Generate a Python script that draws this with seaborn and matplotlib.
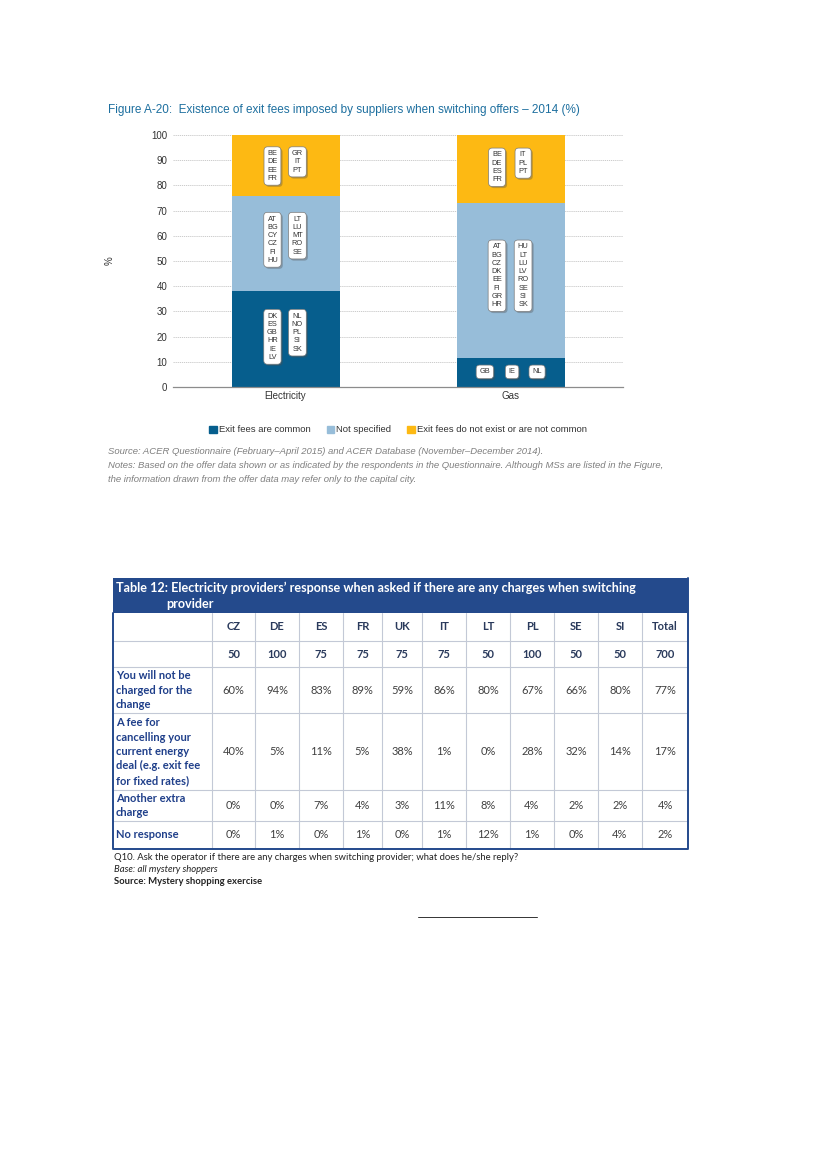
import numpy as np
import pandas as pd
import matplotlib
matplotlib.use("Agg")
import matplotlib.pyplot as plt
import matplotlib.patheffects as pe
from matplotlib.patches import Patch, Rectangle
import seaborn as sns

# --- dane wykresu (Figure A-20) ---
categories = ["Electricity", "Gas"]
fees_common = [37.9, 11.5]
not_specified = [37.9, 61.5]
no_fees = [24.1, 26.9]

elec_common = [["DK", "ES", "GB", "HR", "IE", "LV"], ["NL", "NO", "PL", "SI", "SK"]]
elec_notspec = [["AT", "BG", "CY", "CZ", "FI", "HU"], ["LT", "LU", "MT", "RO", "SE"]]
elec_nofee = [["BE", "DE", "EE", "FR"], ["GR", "IT", "PT"]]
gas_common = [["GB"], ["IE"], ["NL"]]
gas_notspec = [["AT", "BG", "CZ", "DK", "EE", "FI", "GR", "HR"],
               ["HU", "LT", "LU", "LV", "RO", "SE", "SI", "SK"]]
gas_nofee = [["BE", "DE", "ES", "FR"], ["IT", "PL", "PT"]]

legend_labels = ["Exit fees are common", "Not specified",
                 "Exit fees do not exist or are not common"]

# --- dane tabeli (Table 12) ---
countries = ["CZ", "DE", "ES", "FR", "UK", "IT", "LT", "PL", "SE", "SI", "Total"]
base_n = [50, 100, 75, 75, 75, 75, 50, 100, 50, 50, 700]
row_labels = [
    "You will not be\ncharged for the\nchange",
    "A fee for\ncancelling your\ncurrent energy\ndeal (e.g. exit fee\nfor fixed rates)",
    "Another extra\ncharge",
    "No response",
]
not_charged = [60, 94, 83, 89, 59, 86, 80, 67, 66, 80, 77]
cancel_fee = [40, 5, 11, 5, 38, 1, 0, 28, 32, 14, 17]
extra_charge = [0, 0, 7, 4, 3, 11, 8, 4, 2, 2, 4]
no_response = [0, 1, 0, 1, 0, 1, 12, 1, 0, 4, 2]

C_DARK = "#065e8d"
C_LIGHT = "#97bdd9"
C_YELLOW = "#fdb913"
C_TITLE = "#1d6f9f"
C_TAB = "#244a8c"

W, H = 827, 1169

sns.set_theme(style="white")
plt.rcParams["font.family"] = ["Liberation Sans", "DejaVu Sans"]

fig = plt.figure(figsize=(W / 100, H / 100), dpi=100)


def fig_box(x0, y0, x1, y1):
    # piksele (od góry) -> współrzędne figury
    return [x0 / W, 1 - y1 / H, (x1 - x0) / W, (y1 - y0) / H]


# ================= WYKRES =================
ax = fig.add_axes(fig_box(173, 135, 623, 387))
df = pd.DataFrame({"cat": categories, "common": fees_common,
                   "notspec": not_specified, "nofee": no_fees})
df["c1"] = df["common"]
df["c2"] = df["common"] + df["notspec"]
df["c3"] = df["c2"] + df["nofee"]

for col, color in [("c3", C_YELLOW), ("c2", C_LIGHT), ("c1", C_DARK)]:
    sns.barplot(data=df, x="cat", y=col, color=color, saturation=1,
                width=0.48, linewidth=0, edgecolor="none", ax=ax)

ax.set_xlim(-0.5, 1.5)
ax.set_ylim(0, 100)
ax.set_yticks(range(0, 101, 10))
ax.yaxis.grid(True, color="#c4c4c4", linestyle=(0, (1.5, 1)), linewidth=0.6)
ax.set_axisbelow(True)
for s in ["top", "right", "left"]:
    ax.spines[s].set_visible(False)
ax.spines["bottom"].set_color("#8c8c8c")
ax.spines["bottom"].set_linewidth(0.9)
ax.tick_params(axis="both", length=0, labelsize=7, colors="#333333")
ax.tick_params(axis="y", pad=4)
ax.tick_params(axis="x", pad=3)
ax.set_xlabel("")
ax.set_ylabel("%", fontsize=7, color="#333333")
ax.yaxis.set_label_coords((115 - 173) / 450, 0.5)


def country_box(x, y, codes, va="top"):
    t = ax.text(x, y, "\n".join(codes), ha="center", va=va, fontsize=5.3,
                color="#333333", linespacing=1.25, zorder=5,
                bbox=dict(boxstyle="round,pad=0.45,rounding_size=0.5",
                          fc="white", ec="#7a7a7a", lw=0.5))
    t.get_bbox_patch().set_path_effects(
        [pe.SimplePatchShadow(offset=(1.2, -1.2), alpha=0.35), pe.Normal()])


# Electricity
for dx, codes in zip([-0.058, 0.053], elec_nofee):
    country_box(0 + dx, 94.0, codes)
for dx, codes in zip([-0.058, 0.053], elec_notspec):
    country_box(0 + dx, 68.0, codes)
for dx, codes in zip([-0.058, 0.053], elec_common):
    country_box(0 + dx, 29.5, codes)
# Gas
for dx, codes in zip([-0.06, 0.056], gas_nofee):
    country_box(1 + dx, 93.5, codes)
for dx, codes in zip([-0.06, 0.056], gas_notspec):
    country_box(1 + dx, 57.0, codes)
for dx, codes in zip([-0.114, 0.007, 0.118], gas_common):
    country_box(1 + dx, 6.0, codes, va="center")

handles = [Patch(color=c, label=l) for c, l in zip([C_DARK, C_LIGHT, C_YELLOW], legend_labels)]
ax.legend(handles=handles, loc="center", bbox_to_anchor=((398 - 173) / 450, (387 - 430) / 252),
          ncol=3, frameon=False, fontsize=6.8, handlelength=0.8, handleheight=0.8,
          handletextpad=0.2, columnspacing=1.7, labelcolor="#333333")

fig.text(108 / W, 1 - 110 / H,
         "Figure A-20:  Existence of exit fees imposed by suppliers when switching offers \u2013 2014 (%)",
         fontsize=8.5, color=C_TITLE, va="center", ha="left")

src_kw = dict(fontsize=6.8, color="#7f7f7f", style="italic", va="center", ha="left")
fig.text(108 / W, 1 - 452 / H,
         "Source: ACER Questionnaire (February\u2013April 2015) and ACER Database (November\u2013December 2014).",
         **src_kw)
fig.text(108 / W, 1 - 466 / H,
         "Notes: Based on the offer data shown or as indicated by the respondents in the Questionnaire. "
         "Although MSs are listed in the Figure,", **src_kw)
fig.text(108 / W, 1 - 479 / H,
         "the information drawn from the offer data may refer only to the capital city.", **src_kw)

# ================= TABELA =================
tx = fig.add_axes([0, 0, 1, 1])
tx.set_xlim(0, W)
tx.set_ylim(H, 0)
tx.axis("off")
tx.patch.set_alpha(0)

tab_font = ["Lato", "DejaVu Sans"]
x_left, x_right = 113, 688
col_edges = [212, 255, 299, 343, 382, 422, 466, 510, 554, 598, 642, 688]
row_edges = [578, 613, 641, 667, 713, 790, 821, 849]
grid_c = "#c3c9d6"

tx.add_patch(Rectangle((x_left, row_edges[0]), x_right - x_left, row_edges[1] - row_edges[0],
                       fc=C_TAB, ec="none"))
tx.text(116, 588, "Table 12: Electricity providers\u2019 response when asked if there are any charges when switching",
        family=tab_font, fontsize=9.1, fontweight="bold", color="white", va="center", ha="left")
tx.text(166, 604, "provider", family=tab_font, fontsize=9.1, fontweight="bold",
        color="white", va="center", ha="left")

# linie siatki
for y in row_edges[2:-1]:
    tx.plot([x_left, x_right], [y, y], color=grid_c, lw=0.8)
for x in col_edges[:-1]:
    tx.plot([x, x], [row_edges[1], row_edges[-1]], color=grid_c, lw=0.8)
# obramowanie
tx.plot([x_left, x_left, x_right, x_right], [row_edges[1], row_edges[-1], row_edges[-1], row_edges[0]],
        color=C_TAB, lw=1.4)

centers = [(a + b) / 2 for a, b in zip(col_edges[:-1], col_edges[1:])]
for cx, c, n in zip(centers, countries, base_n):
    tx.text(cx, (row_edges[1] + row_edges[2]) / 2, c, family=tab_font, fontsize=8,
            fontweight="bold", color="#2a3a5c", ha="center", va="center")
    tx.text(cx, (row_edges[2] + row_edges[3]) / 2, str(n), family=tab_font, fontsize=8,
            fontweight="bold", color="#2a3a5c", ha="center", va="center")

table_rows = [not_charged, cancel_fee, extra_charge, no_response]
for i, (label, vals) in enumerate(zip(row_labels, table_rows)):
    y0, y1 = row_edges[3 + i], row_edges[4 + i]
    yc = (y0 + y1) / 2
    tx.text(116, yc, label, family=tab_font, fontsize=8, fontweight="bold",
            color="#1f3f8a", ha="left", va="center", linespacing=1.38)
    for cx, v in zip(centers, vals):
        tx.text(cx, yc, f"{v}%", family=tab_font, fontsize=8, color="#404040",
                ha="center", va="center")

fn_kw = dict(family=tab_font, fontsize=6.8, color="#222222", ha="left", va="center")
tx.text(114, 857, "Q10. Ask the operator if there are any charges when switching provider; what does he/she reply?", **fn_kw)
tx.text(114, 869, "Base: all mystery shoppers", style="italic", **fn_kw)
tx.text(114, 881, "Source: Mystery shopping exercise", fontweight="bold", **fn_kw)

tx.plot([418, 537], [917, 917], color="#333333", lw=0.7)

fig.savefig("out.png", dpi=100)
